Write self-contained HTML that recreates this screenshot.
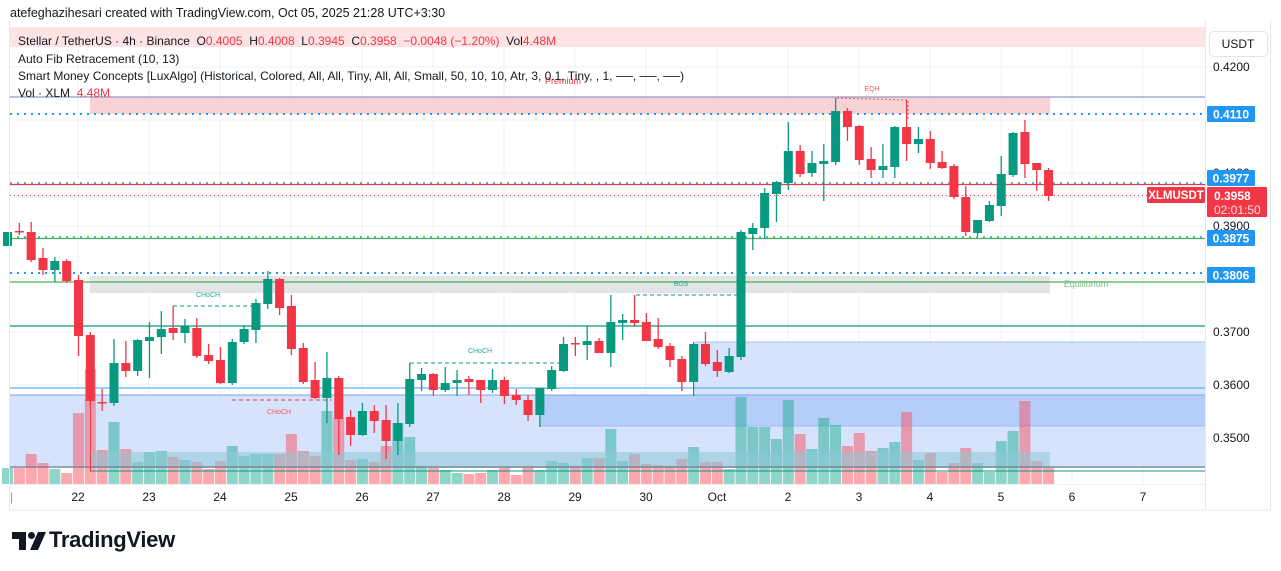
<!DOCTYPE html>
<html><head><meta charset="utf-8"><style>
body{margin:0;width:1281px;height:571px;background:#fff;overflow:hidden;font-family:"Liberation Sans",sans-serif;position:relative}
.t{position:absolute;white-space:nowrap;color:#131722}
</style></head><body>
<div class="t" style="left:10px;top:6px;font-size:12.5px">atefeghazihesari created with TradingView.com, Oct 05, 2025 21:28 UTC+3:30</div>
<svg id="s" width="1281" height="571" style="position:absolute;left:0;top:0"></svg>
<div class="t" style="left:18px;top:34px;font-size:12px">Stellar / TetherUS · 4h · Binance &nbsp;O<span style="color:#f23645">0.4005</span> &nbsp;H<span style="color:#f23645">0.4008</span> &nbsp;L<span style="color:#f23645">0.3945</span> &nbsp;C<span style="color:#f23645">0.3958 &nbsp;−0.0048 (−1.20%)</span> &nbsp;Vol<span style="color:#f23645">4.48M</span></div>
<div class="t" style="left:18px;top:52px;font-size:12px">Auto Fib Retracement (10, 13)</div>
<div class="t" style="left:18px;top:69px;font-size:12px">Smart Money Concepts [LuxAlgo] (Historical, Colored, All, All, Tiny, All, All, Small, 50, 10, 10, Atr, 3, 0.1, Tiny, , 1, ──, ──, ──)</div>
<div class="t" style="left:18px;top:86px;font-size:12px">Vol · XLM &nbsp;<span style="color:#f23645">4.48M</span></div>
<svg width="34" height="18" style="position:absolute;left:12px;top:532px"><path d="M0 0H14V18H7V7H0Z" fill="#131722"/><circle cx="19.5" cy="3.5" r="3.5" fill="#131722"/><path d="M26 0H34L26 18H18Z" fill="#131722"/></svg>
<div class="t" style="left:49px;top:527px;font-size:22px;font-weight:bold;letter-spacing:-0.3px">TradingView</div>
<script>
const C=[[-6,246,232,232,246],[-5,231,231,223,235],[-4,232,260,222,262],[-3,258,270,248,275],[-2,270,261,257,282],[-1,261,281,259,283],
[0,280,336,275,356],[1,335,401,332,405],[2,402,402,389,411],[3,403,363,339,406],[4,363,371,341,377],[5,371,340,339,376],[6,341,337,322,378],[7,337,329,311,354],[8,328,333,306,340],[9,333,326,319,343],[10,328,356,318,358],[11,355,361,344,364],[12,360,383,347,384],[13,383,342,339,385],[14,342,329,325,344],[15,330,303,299,343],[16,304,279,271,309],[17,279,308,278,315],[18,306,349,295,355],[19,348,382,343,384],[20,380,398,362,399],[21,398,378,352,423],[22,378,419,376,455],[23,417,435,410,446],[24,435,411,403,436],[25,411,421,405,433],[26,420,441,405,459],[27,441,423,403,455],[28,424,379,363,427],
[29,380,374,368,391],[30,374,390,373,396],[31,390,383,367,392],[32,383,380,370,396],[33,379,382,376,395],[34,380,390,380,403],[35,390,380,369,393],[36,380,396,377,404],[37,395,400,389,405],[38,400,415,395,421],[39,415,388,388,427],[40,389,370,366,391],[41,371,344,337,372],[42,343,343,337,356],[43,345,341,326,360],[44,341,353,338,353],[45,353,322,295,367],[46,323,320,314,340],[47,320,323,295,326],[48,322,341,313,341],[49,339,347,318,349],[50,346,360,343,367],[51,359,382,356,391],[52,382,344,342,396],[53,344,364,332,366],[54,362,371,350,377],[55,372,356,348,373],[56,357,232,230,360],
[57,234,228,223,250],[58,228,193,188,239],[59,194,182,181,222],[60,183,151,122,190],[61,151,174,145,177],[62,173,163,151,177],[63,164,161,144,201],[64,162,111,98,165],[65,111,127,108,141],[66,126,160,125,165],[67,159,170,147,178],[68,170,166,144,178],[69,167,127,126,178],[70,127,144,100,161],[71,144,139,127,153],[72,139,163,131,169],[73,162,168,151,169],[74,166,197,164,199],[75,197,232,186,236],[76,233,220,220,236],[77,221,205,201,222],[78,206,174,156,216],[79,175,133,132,177],[80,132,164,120,178],[81,163,170,163,191],[82,170,196,168,201]];
const V={"-6":468,"-5":468,"-4":454,"-3":463,"-2":469,"-1":473,0:413,1:369,2:450,3:422,4:449,5:462,6:452,7:451,8:457,9:460,10:462,11:469,12:461,13:446,14:456,15:454,16:454,17:454,18:434,19:451,20:456,21:411,22:418,23:460,24:459,25:462,26:446,27:423,28:437,29:466,30:468,31:470,32:473,33:474,34:473,35:470,36:468,37:475,38:467,39:470,40:461,41:463,42:466,43:458,44:458,45:429,46:461,47:454,48:464,49:465,50:466,51:459,52:447,53:462,54:462,55:469,56:397,57:427,58:427,59:439,60:400,61:434,62:449,63:418,64:425,65:446,66:433,67:451,68:448,69:442,70:412,71:460,72:453,73:472,74:463,75:448,76:463,77:472,78:441,79:431,80:401,81:461,82:468};
let h='';
const X=i=>78.5+i*11.83;
[67,120,173,226,279,332,385,438].forEach(y=>h+=`<line x1="10" x2="1205" y1="${y}" y2="${y}" stroke="#f0f1f4"/>`);
const days=[[78,"22"],[149,"23"],[220,"24"],[291,"25"],[362,"26"],[433,"27"],[504,"28"],[575,"29"],[646,"30"],[717,"Oct"],[788,"2"],[859,"3"],[930,"4"],[1001,"5"],[1072,"6"],[1143,"7"]];
days.forEach(d=>{h+=`<line x1="${d[0]}" x2="${d[0]}" y1="27" y2="484" stroke="#f0f1f4"/>`;h+=`<text x="${d[0]}" y="501" font-size="12" text-anchor="middle" fill="#131722" font-family="Liberation Sans">${d[1]}</text>`});
h+=`<rect x="10" y="27" width="1195" height="20" fill="#fde3e4"/>`;
h+=`<rect x="90" y="97" width="960" height="17" fill="#f9d2d5"/>`;
h+=`<rect x="90" y="276" width="960" height="17" fill="#e3e4e6"/>`;
h+=`<rect x="695" y="342" width="510" height="53" fill="#d6e3fc"/>`;
h+=`<rect x="10" y="395" width="1195" height="73" fill="#d6e3fc"/>`;
h+=`<rect x="540" y="395" width="665" height="31" fill="#b5cdf9"/>`;
h+=`<line x1="540" x2="1205" y1="426" y2="426" stroke="#9ebdf5"/>`;
h+=`<line x1="10" x2="1205" y1="395" y2="395" stroke="#7da3ec"/>`;
h+=`<line x1="695" x2="1205" y1="342" y2="342" stroke="#a9c3f6"/>`;
C.forEach(c=>{const i=c[0],top=V[i],g=c[2]<c[1];h+=`<rect x="${X(i)-5.5}" y="${top}" width="11" height="${484-top}" fill="${g?'#22ab94':'#f7525f'}" fill-opacity="0.5"/>`});
h+=`<rect x="90" y="452" width="960" height="16" fill="#8ec9d6" fill-opacity="0.55"/>`;
h+=`<line x1="10" x2="1205" y1="97" y2="97" stroke="#8f99c4" stroke-width="1.3"/>`;
h+=`<line x1="10" x2="1205" y1="114" y2="114" stroke="#2196f3" stroke-width="2" stroke-dasharray="2 5"/>`;
h+=`<line x1="10" x2="1205" y1="183" y2="183" stroke="#2196f3" stroke-width="1.5" stroke-dasharray="2 5"/>`;
h+=`<line x1="10" x2="1205" y1="184.5" y2="184.5" stroke="#f23645" stroke-width="1.2"/>`;
h+=`<line x1="10" x2="1205" y1="195.5" y2="195.5" stroke="#f23645" stroke-width="1" stroke-dasharray="1 3"/>`;
h+=`<line x1="10" x2="1205" y1="237" y2="237" stroke="#2196f3" stroke-width="1.5" stroke-dasharray="2 5"/>`;
h+=`<line x1="10" x2="1205" y1="238.5" y2="238.5" stroke="#4caf50" stroke-width="1.2"/>`;
h+=`<line x1="10" x2="1205" y1="273" y2="273" stroke="#2196f3" stroke-width="2" stroke-dasharray="2 5"/>`;
h+=`<line x1="10" x2="1205" y1="282" y2="282" stroke="#4caf50" stroke-width="1.2"/>`;
h+=`<line x1="10" x2="1205" y1="326" y2="326" stroke="#089981" stroke-width="1.3"/>`;
h+=`<line x1="10" x2="1205" y1="388" y2="388" stroke="#5ab0f0" stroke-width="1.3"/>`;
h+=`<line x1="10" x2="1205" y1="467" y2="467" stroke="#787b86" stroke-width="1.3"/>`;
h+=`<line x1="90" x2="1205" y1="471" y2="471" stroke="#089981" stroke-width="1"/>`;
h+=`<line x1="90.5" x2="90.5" y1="335" y2="472" stroke="#f23645" stroke-width="1"/>`;
const dash=(x1,x2,y,c)=>h+=`<line x1="${x1}" x2="${x2}" y1="${y}" y2="${y}" stroke="${c}" stroke-dasharray="4 3"/>`;
dash(173,252,306,"#089981");dash(232,332,400,"#f23645");dash(410,560,363,"#089981");dash(636,737,295,"#089981");
h+=`<polyline points="837,98 908,100 908,120" fill="none" stroke="#f7525f" stroke-dasharray="2 2"/>`;
const lab=(x,y,t,c,s)=>h+=`<text x="${x}" y="${y}" font-size="${s||7}" text-anchor="middle" fill="${c}" font-family="Liberation Sans">${t}</text>`;
lab(208,297,"CHoCH","#22ab94");lab(279,414,"CHoCH","#f7525f");lab(480,353,"CHoCH","#22ab94");lab(681,286,"BOS","#22ab94");lab(872,91,"EQH","#f7525f");lab(563,84,"Premium","#f23645",9);lab(1086,287,"Equilibrium","#7fbf8f",9);
C.forEach(c=>{const [i,o,cl,hi,lo]=c,g=cl<o,col=g?'#089981':'#f23645',x=X(i);h+=`<line x1="${x}" x2="${x}" y1="${hi}" y2="${lo}" stroke="${col}" stroke-width="1.3"/>`;const t=Math.min(o,cl),b=Math.max(Math.abs(o-cl),1.5);h+=`<rect x="${x-4.5}" y="${t}" width="9" height="${b}" fill="${col}"/>`});
h+=`<rect x="1205" y="20" width="76" height="495" fill="#fff"/>`;
h+=`<line x1="9.5" x2="9.5" y1="20" y2="510" stroke="#e8e8ec"/><line x1="1205.5" x2="1205.5" y1="20" y2="510" stroke="#e8e8ec"/><line x1="1270.5" x2="1270.5" y1="20" y2="510" stroke="#e8e8ec"/><line x1="9" x2="1271" y1="510" y2="510" stroke="#e8e8ec"/><line x1="9" x2="1205" y1="484.5" y2="484.5" stroke="#f0f0f3"/>`;
h+=`<rect x="1209.5" y="31.5" width="58" height="25" rx="4" fill="#fff" stroke="#e0e3eb"/>`;
h+=`<text x="1238" y="48" font-size="12" text-anchor="middle" fill="#131722" font-family="Liberation Sans">USDT</text>`;
[[67,"0.4200"],[226,"0.3900"],[332,"0.3700"],[385,"0.3600"],[438,"0.3500"],[173,"0.4000"]].forEach(a=>h+=`<text x="1213" y="${a[0]+4}" font-size="12" fill="#131722" font-family="Liberation Sans">${a[1]}</text>`);
const badge=(y,t)=>{h+=`<rect x="1207" y="${y-8}" width="48" height="16" rx="1" fill="#2196f3"/><text x="1231" y="${y+4.5}" font-size="12" font-weight="bold" text-anchor="middle" fill="#fff" font-family="Liberation Sans">${t}</text>`};
badge(114,"0.4110");badge(178,"0.3977");badge(238,"0.3875");badge(275,"0.3806");
h+=`<rect x="1207" y="187" width="60" height="30" rx="1" fill="#f23645"/><text x="1214" y="200" font-size="12" font-weight="bold" fill="#fff" font-family="Liberation Sans">0.3958</text><text x="1214" y="214" font-size="12" fill="#fde0e2" font-family="Liberation Sans">02:01:50</text>`;
h+=`<rect x="1147" y="187" width="58" height="16" rx="1" fill="#f23645"/><text x="1176" y="199" font-size="11.5" font-weight="bold" text-anchor="middle" fill="#fff" font-family="Liberation Sans">XLMUSDT</text>`;
h+=`<text x="10" y="501" font-size="12" fill="#999" font-family="Liberation Sans">|</text>`;
document.getElementById('s').innerHTML=h;
</script>
</body></html>
